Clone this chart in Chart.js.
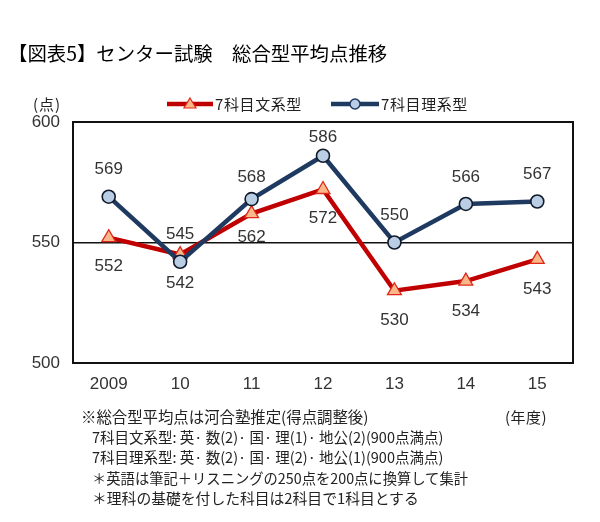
<!DOCTYPE html>
<html>
<head>
<meta charset="utf-8">
<script src="https://cdn.jsdelivr.net/npm/chart.js@4/dist/chart.umd.min.js"></script>
<style>
  body { margin:0; background:#fff; }
  #wrap { position:relative; width:600px; height:522px; overflow:hidden; background:#fff; }
  #c { position:absolute; left:0; top:0; }
  .jp { position:absolute; font-family:"Noto Sans CJK JP","Noto Sans",sans-serif; color:#222; white-space:nowrap; }
</style>
</head>
<body>
<div id="wrap">
  <canvas id="c" width="600" height="522"></canvas>
  <div class="jp" style="left:8px;top:38px;font-size:19.4px;color:#000;">【図表5】センター試験　総合型平均点推移</div>
  <div class="jp" style="left:33px;top:93px;font-size:15px;letter-spacing:1px;">(点)</div>
  <svg style="position:absolute;left:0;top:94px" width="600" height="20">
    <line x1="167" y1="10" x2="213" y2="10" stroke="#C00000" stroke-width="4.5"/>
    <polygon points="190,4 196,14 184,14" fill="#FAB88A" stroke="#E02818" stroke-width="1.2"/>
    <line x1="331" y1="10" x2="379" y2="10" stroke="#1F3A60" stroke-width="4.5"/>
    <circle cx="355" cy="10" r="5" fill="#B9CDE5" stroke="#1F3A60" stroke-width="1.5"/>
  </svg>
  <div class="jp" id="lg1" style="left:215px;top:93px;font-size:15px;letter-spacing:0.6px;"></div>
  <div class="jp" id="lg2" style="left:381px;top:93px;font-size:15px;letter-spacing:0.6px;"></div>
  <div class="jp" style="left:505px;top:406px;font-size:15px;letter-spacing:0.5px;">(年度)</div>
  <div class="jp" id="notes" style="left:81px;top:406px;line-height:20.5px;"></div>
</div>
<script>
// ---- data ----
const categories = ["2009", "10", "11", "12", "13", "14", "15"];
const seriesNames = ["7科目文系型", "7科目理系型"];
const bunkeiValues = [552, 545, 562, 572, 530, 534, 543];
const rikeiValues  = [569, 542, 568, 586, 550, 566, 567];
const yTicks = [500, 550, 600];
const noteLines = [
  "※総合型平均点は河合塾推定(得点調整後)",
  "7科目文系型: 英· 数(2)· 国· 理(1)· 地公(2)(900点満点)",
  "7科目理系型: 英· 数(2)· 国· 理(2)· 地公(1)(900点満点)",
  "＊英語は筆記＋リスニングの250点を200点に換算して集計",
  "＊理科の基礎を付した科目は2科目で1科目とする"
];
// label placement (pixels from point, negative = above)
const bunkeiLabelOffsets = [29, -20, 24, 29, 30, 30, 30];
const rikeiLabelOffsets  = [-27, 22, -22, -18, -27, -27, -27];

document.getElementById('lg1').textContent = seriesNames[0];
document.getElementById('lg2').textContent = seriesNames[1];
const noteSizes = [15.4, 14.5, 14.5, 14.3, 14.8];
document.getElementById('notes').innerHTML = noteLines
  .map((t, i) => '<div style="font-size:' + noteSizes[i] + 'px;padding-left:' + (i === 0 ? 0 : 11) + 'px">' + t + '</div>').join('');

const borderPlugin = {
  id: 'plotBorder',
  beforeDatasetsDraw(chart) {
    const a = chart.chartArea, ctx = chart.ctx;
    ctx.save();
    ctx.strokeStyle = '#111';
    ctx.lineWidth = 2;
    ctx.strokeRect(a.left, a.top, a.right - a.left, a.bottom - a.top);
    ctx.restore();
  }
};

const valueLabelPlugin = {
  id: 'valueLabels',
  afterDatasetsDraw(chart) {
    const ctx = chart.ctx;
    ctx.save();
    ctx.font = '17px "Liberation Sans", Arial, sans-serif';
    ctx.fillStyle = '#333';
    ctx.textAlign = 'center';
    ctx.textBaseline = 'middle';
    chart.data.datasets.forEach((ds, i) => {
      const meta = chart.getDatasetMeta(i);
      meta.data.forEach((pt, j) => {
        ctx.fillText(String(ds.data[j]), pt.x, pt.y + ds.labelOffsets[j]);
      });
    });
    ctx.restore();
  }
};

new Chart(document.getElementById('c'), {
  type: 'line',
  data: {
    labels: categories,
    datasets: [
      {
        label: seriesNames[0],
        data: bunkeiValues,
        labelOffsets: bunkeiLabelOffsets,
        borderColor: '#C00000',
        borderWidth: 4.5,
        pointStyle: 'triangle',
        pointRadius: 8,
        pointBackgroundColor: '#FAB88A',
        pointBorderColor: '#E02818',
        pointBorderWidth: 1.3,
        tension: 0,
        order: 2
      },
      {
        label: seriesNames[1],
        data: rikeiValues,
        labelOffsets: rikeiLabelOffsets,
        borderColor: '#1F3A60',
        borderWidth: 4.5,
        pointStyle: 'circle',
        pointRadius: 6.5,
        pointBackgroundColor: '#B9CDE5',
        pointBorderColor: '#111a2a',
        pointBorderWidth: 1.6,
        tension: 0,
        order: 1
      }
    ]
  },
  options: {
    responsive: false,
    animation: false,
    devicePixelRatio: 1,
    layout: { padding: { top: 122, left: 30, right: 27, bottom: 119 } },
    plugins: { legend: { display: false }, tooltip: { enabled: false }, title: { display: false } },
    scales: {
      x: {
        type: 'category',
        offset: true,
        grid: { display: false, drawTicks: false },
        border: { display: false },
        ticks: { color: '#333', padding: 11, font: { family: '"Liberation Sans", Arial, sans-serif', size: 17 } },
        afterFit: s => { s.height = 40; }
      },
      y: {
        min: yTicks[0],
        max: yTicks[yTicks.length - 1],
        afterBuildTicks: s => { s.ticks = yTicks.map(v => ({ value: v })); },
        grid: {
          drawTicks: false,
          lineWidth: 1.5,
          color: c => (c.tick && c.tick.value === yTicks[1]) ? '#111' : 'rgba(0,0,0,0)'
        },
        border: { display: false },
        ticks: { color: '#333', padding: 13, font: { family: '"Liberation Sans", Arial, sans-serif', size: 17 } },
        afterFit: s => { s.width = 43; }
      }
    }
  },
  plugins: [borderPlugin, valueLabelPlugin]
});
</script>
</body>
</html>
